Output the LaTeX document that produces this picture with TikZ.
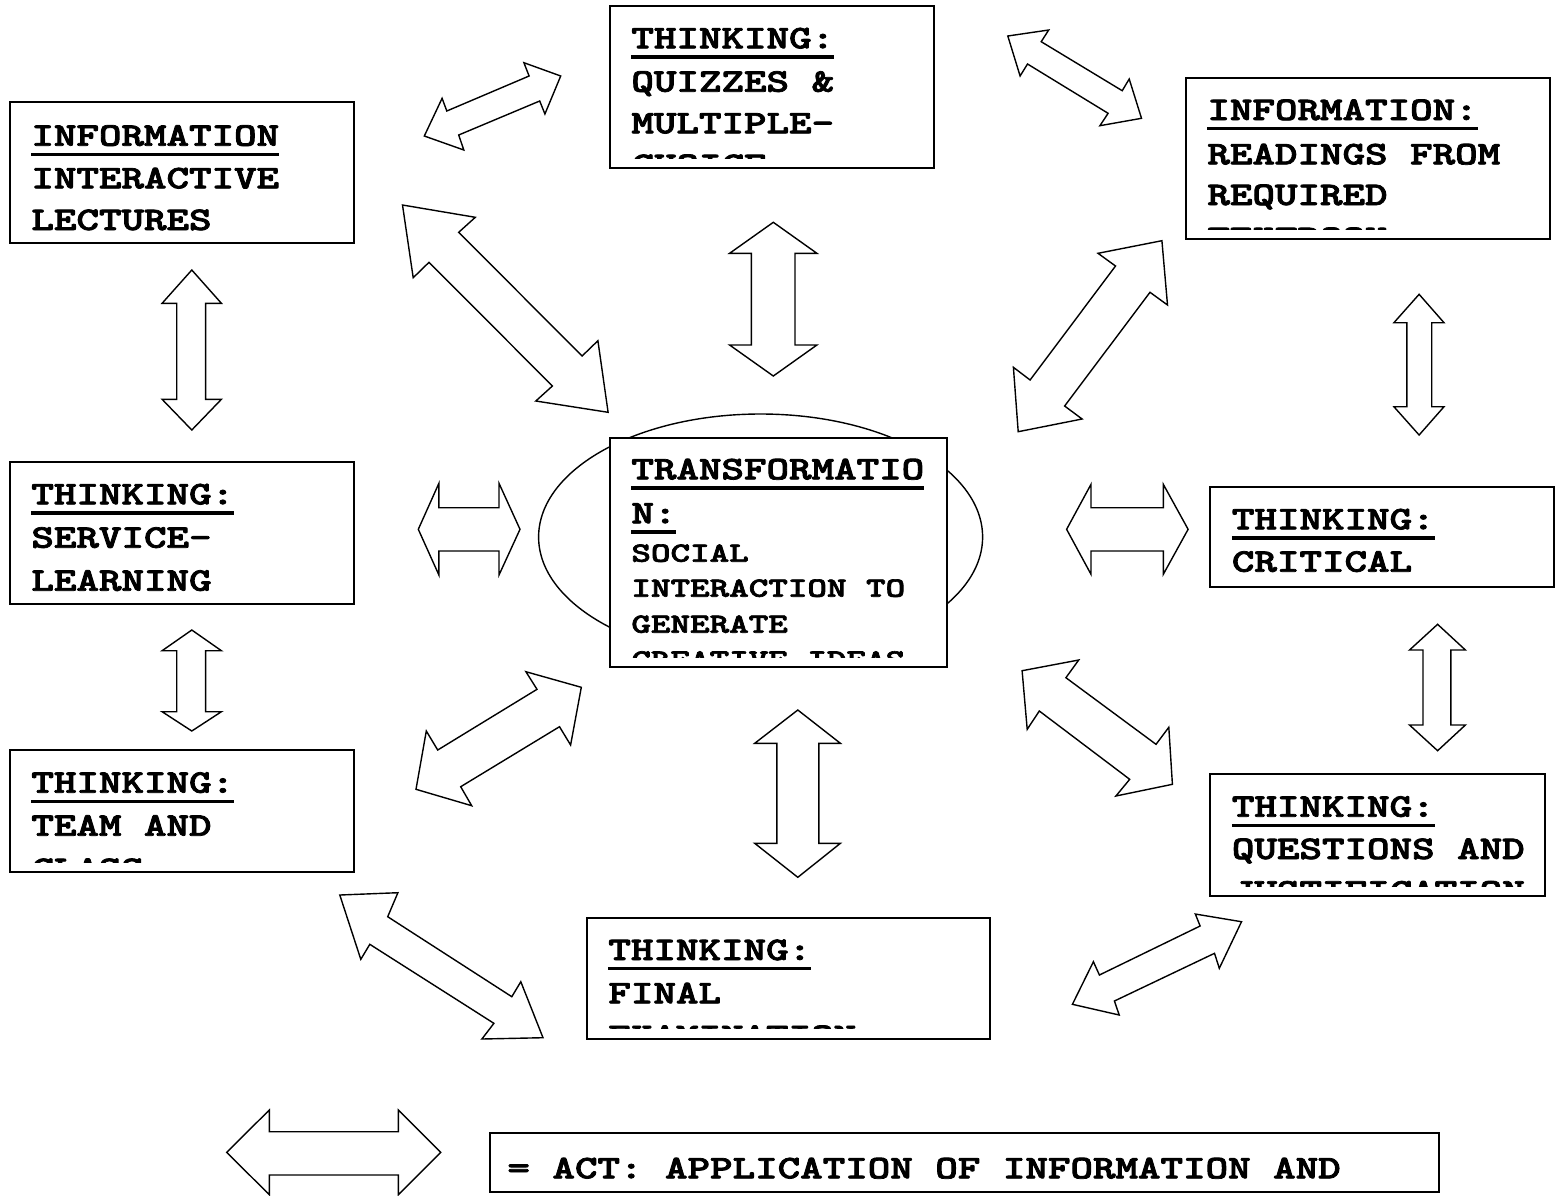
\documentclass[tikz,border=0pt]{standalone}
\usepackage{graphicx}
\usepackage{fontspec}
\newfontfamily\courb{lmmonolt10-bold}[Extension=.otf, FakeBold=2.2]
\usetikzlibrary{shapes.geometric,fit}
\newcommand\UL[1]{\setbox0\hbox{#1}\rlap{\rule[-5.2pt]{\wd0}{1.65pt}}\box0}
\newcommand\TS[1]{\scalebox{1.30}[1]{#1}}
\newcommand\BS[1]{\scalebox{1.34}[1]{#1}}
\tikzset{
  box/.style={draw, line width=0.8pt, fill=white, inner sep=0pt, rectangle},
  blk/.style={draw, line width=0.7pt, fill=white, line join=miter},
  ttl/.style={anchor=base west, inner sep=0pt, font=\courb\fontsize{16.5pt}{20pt}\selectfont},
  bdy/.style={anchor=base west, inner sep=0pt, font=\courb\fontsize{13.9pt}{17pt}\selectfont},
}
\begin{document}
\begin{tikzpicture}[x=0.5pt,y=-0.5pt]
\useasboundingbox (0,0) rectangle (1562,1195);

% central ellipse
\node[draw, ellipse, line width=0.7pt, minimum width=222pt, minimum height=123pt, inner sep=0pt] (ell) at (760.6,537) {};

% boxes
\node[box, fit={(10,102) (354,243)}] (b1) {};
\node[box, fit={(610,6) (934,168)}] (b2) {};
\node[box, fit={(1186,78) (1550,239)}] (b3) {};
\node[box, fit={(10,462) (354,604)}] (b4) {};
\node[box, fit={(10,750) (354,872)}] (b5) {};
\node[box, fit={(610,438) (947,667)}] (b6) {};
\node[box, fit={(1210,487) (1554,587)}] (b7) {};
\node[box, fit={(1210,774) (1545,896)}] (b8) {};
\node[box, fit={(587,918) (990,1039)}] (b9) {};
\node[box, fit={(490,1133) (1439,1192)}] (leg) {};

% texts
\node[ttl] (t1a) at (31,145.7) {\TS{\UL{INFORMATION}}};
\node[ttl] (t1b) at (31,188.3) {\TS{INTERACTIVE}};
\node[ttl] (t1c) at (31,230) {\TS{LECTURES}};

\begin{scope}
\clip (b2.north west) rectangle ([yshift=5.4pt]b2.south east);
\node[ttl] (t2a) at (631,48.3) {\TS{\UL{THINKING:}}};
\node[ttl] (t2b) at (631,91.7) {\TS{QUIZZES \&}};
\node[ttl] (t2c) at (631,133.3) {\TS{MULTIPLE-}};
\node[ttl] (t2d) at (631,175) {\TS{CHOICE}};
\end{scope}

\begin{scope}
\clip (b3.north west) rectangle ([yshift=5.0pt]b3.south east);
\node[ttl] (t3a) at (1207,120) {\TS{\UL{INFORMATION:}}};
\node[ttl] (t3b) at (1207,164.3) {\TS{READINGS FROM}};
\node[ttl] (t3c) at (1207,205) {\TS{REQUIRED}};
\node[ttl] (t3d) at (1207,248) {\TS{TEXTBOOK}};
\end{scope}

\node[ttl] (t4a) at (31,504.3) {\TS{\UL{THINKING:}}};
\node[ttl] (t4b) at (31,547.7) {\TS{SERVICE-}};
\node[ttl] (t4c) at (31,590.7) {\TS{LEARNING}};

\begin{scope}
\clip (b5.north west) rectangle ([yshift=5.3pt]b5.south east);
\node[ttl] (t5a) at (31,792.7) {\TS{\UL{THINKING:}}};
\node[ttl] (t5b) at (31,835.7) {\TS{TEAM AND}};
\node[ttl] (t5c) at (31,879) {\TS{CLASS}};
\end{scope}

\begin{scope}
\clip (b6.north west) rectangle ([yshift=5.4pt]b6.south east);
\node[ttl] (t6a) at (631,479.3) {\TS{\UL{TRANSFORMATIO}}};
\node[ttl] (t6b) at (631,523.3) {\TS{\UL{N:}}};
\node[bdy] (t6c) at (631,561.7) {\BS{SOCIAL}};
\node[bdy] (t6d) at (631,596.7) {\BS{INTERACTION TO}};
\node[bdy] (t6e) at (631,632.7) {\BS{GENERATE}};
\node[bdy] (t6f) at (631,668.5) {\BS{CREATIVE IDEAS}};
\end{scope}

\node[ttl] (t7a) at (1231.5,529.3) {\TS{\UL{THINKING:}}};
\node[ttl] (t7b) at (1231.5,571.7) {\TS{CRITICAL}};

\begin{scope}
\clip (b8.north west) rectangle ([yshift=5.4pt]b8.south east);
\node[ttl] (t8a) at (1231.5,816.7) {\TS{\UL{THINKING:}}};
\node[ttl] (t8b) at (1231.5,859) {\TS{QUESTIONS AND}};
\node[ttl] (t8c) at (1231.5,901.5) {\TS{JUSTIFICATION}};
\end{scope}

\begin{scope}
\clip (b9.north west) rectangle ([yshift=5.5pt]b9.south east);
\node[ttl] (t9a) at (608,960) {\TS{\UL{THINKING:}}};
\node[ttl] (t9b) at (608,1003.3) {\TS{FINAL}};
\node[ttl] (t9c) at (608,1046) {\TS{EXAMINATION}};
\end{scope}

\node[ttl] (tleg) at (507,1178.3) {\TS{= ACT: APPLICATION OF INFORMATION AND}};

% block double arrows
\draw[blk] (424.3,136) -- (442.1,98.3) -- (446.8,111) -- (529.1,76) -- (523.9,62.7) -- (560.7,76) -- (544.9,114) -- (539.7,101) -- (458.7,135) -- (463.8,150) -- cycle;
\draw[blk] (402.5,205) -- (475.3,217.3) -- (458.7,232.3) -- (582.1,356) -- (597.9,340.7) -- (608.1,412.3) -- (535.8,401) -- (552.4,386) -- (429,262.3) -- (413.2,277.7) -- cycle;
\draw[blk] (773.3,222.3) -- (816.9,253.3) -- (795,253.3) -- (795,345) -- (816.9,345) -- (773.3,376) -- (729.6,345) -- (751.4,345) -- (751.4,253.3) -- (729.6,253.3) -- cycle;
\draw[blk] (1007.8,36) -- (1048.7,30) -- (1041.2,41.7) -- (1122.2,90.7) -- (1129.2,79) -- (1141.5,118.3) -- (1099.9,125.7) -- (1108.1,113.3) -- (1027.5,64) -- (1020.1,76) -- cycle;
\draw[blk] (1161.9,240.7) -- (1167.5,305) -- (1150,292.3) -- (1064.6,406) -- (1082.1,419) -- (1018.2,431.7) -- (1013.4,367.3) -- (1030.1,380) -- (1115.5,266) -- (1098,253.3) -- cycle;
\draw[blk] (1419.1,294.3) -- (1444,322.7) -- (1431.7,322.7) -- (1431.7,406.7) -- (1444,406.7) -- (1419.1,435) -- (1393.9,406.7) -- (1406.9,406.7) -- (1406.9,322.7) -- (1393.9,322.7) -- cycle;
\draw[blk] (191.8,270) -- (221.4,303.3) -- (205.6,303.3) -- (205.6,399.3) -- (221.4,399.3) -- (191.8,430) -- (162.1,399.3) -- (176.7,399.3) -- (176.7,303.3) -- (162.1,303.3) -- cycle;
\draw[blk] (418.3,529.3) -- (438.9,483.3) -- (438.9,507.7) -- (499,507.7) -- (499,483.3) -- (520,529.3) -- (499,575) -- (499,551) -- (438.9,551) -- (438.9,575) -- cycle;
\draw[blk] (191.8,630) -- (221.4,650.7) -- (205.6,650.7) -- (205.6,711.7) -- (221.4,711.7) -- (191.8,731) -- (162.1,711.7) -- (176.7,711.7) -- (176.7,650.7) -- (162.1,650.7) -- cycle;
\draw[blk] (581.3,687.3) -- (570.6,745) -- (559.5,726.7) -- (460.7,786.7) -- (471.7,805.7) -- (416,789.3) -- (426.3,731) -- (437.7,750) -- (537,689.3) -- (525.9,671.7) -- cycle;
\draw[blk] (1066.6,529.3) -- (1091,484.3) -- (1091,507.7) -- (1163.3,507.7) -- (1163.3,484.3) -- (1188.1,529.3) -- (1163.3,574.3) -- (1163.3,551) -- (1091,551) -- (1091,574.3) -- cycle;
\draw[blk] (1437.6,624.3) -- (1465.4,650) -- (1450.8,650) -- (1450.8,725) -- (1465.4,725) -- (1437.6,750.7) -- (1409.5,725) -- (1423,725) -- (1423,650) -- (1409.5,650) -- cycle;
\draw[blk] (1022.1,670.7) -- (1078.7,660) -- (1065.9,677.7) -- (1156,744.3) -- (1168.8,727.3) -- (1172.4,784.3) -- (1115.9,796) -- (1129.7,779.3) -- (1039.3,711) -- (1027.2,729.3) -- cycle;
\draw[blk] (797.8,710) -- (840.4,743.3) -- (818.8,743.3) -- (818.8,843.3) -- (840.4,843.3) -- (797.8,877.3) -- (754.7,843.3) -- (776.8,843.3) -- (776.8,743.3) -- (754.7,743.3) -- cycle;
\draw[blk] (339.8,895) -- (397.9,892.7) -- (387.7,916.7) -- (511.8,996.7) -- (520.8,981.7) -- (543,1037.7) -- (481.9,1039) -- (493.9,1023.3) -- (369.8,944.3) -- (360.8,959.3) -- cycle;
\draw[blk] (1241.5,921.7) -- (1219.3,968.3) -- (1214.5,953.3) -- (1114.4,1001) -- (1119.2,1015) -- (1072.4,1004.3) -- (1093.4,961.7) -- (1099.4,975) -- (1200.1,926) -- (1195.3,914) -- cycle;
\draw[blk] (226.7,1152.3) -- (269.3,1110) -- (269.3,1131.7) -- (398.3,1131.7) -- (398.3,1110) -- (440.7,1152.3) -- (398.3,1194.7) -- (398.3,1175) -- (269.3,1175) -- (269.3,1194.7) -- cycle;
\end{tikzpicture}
\end{document}
